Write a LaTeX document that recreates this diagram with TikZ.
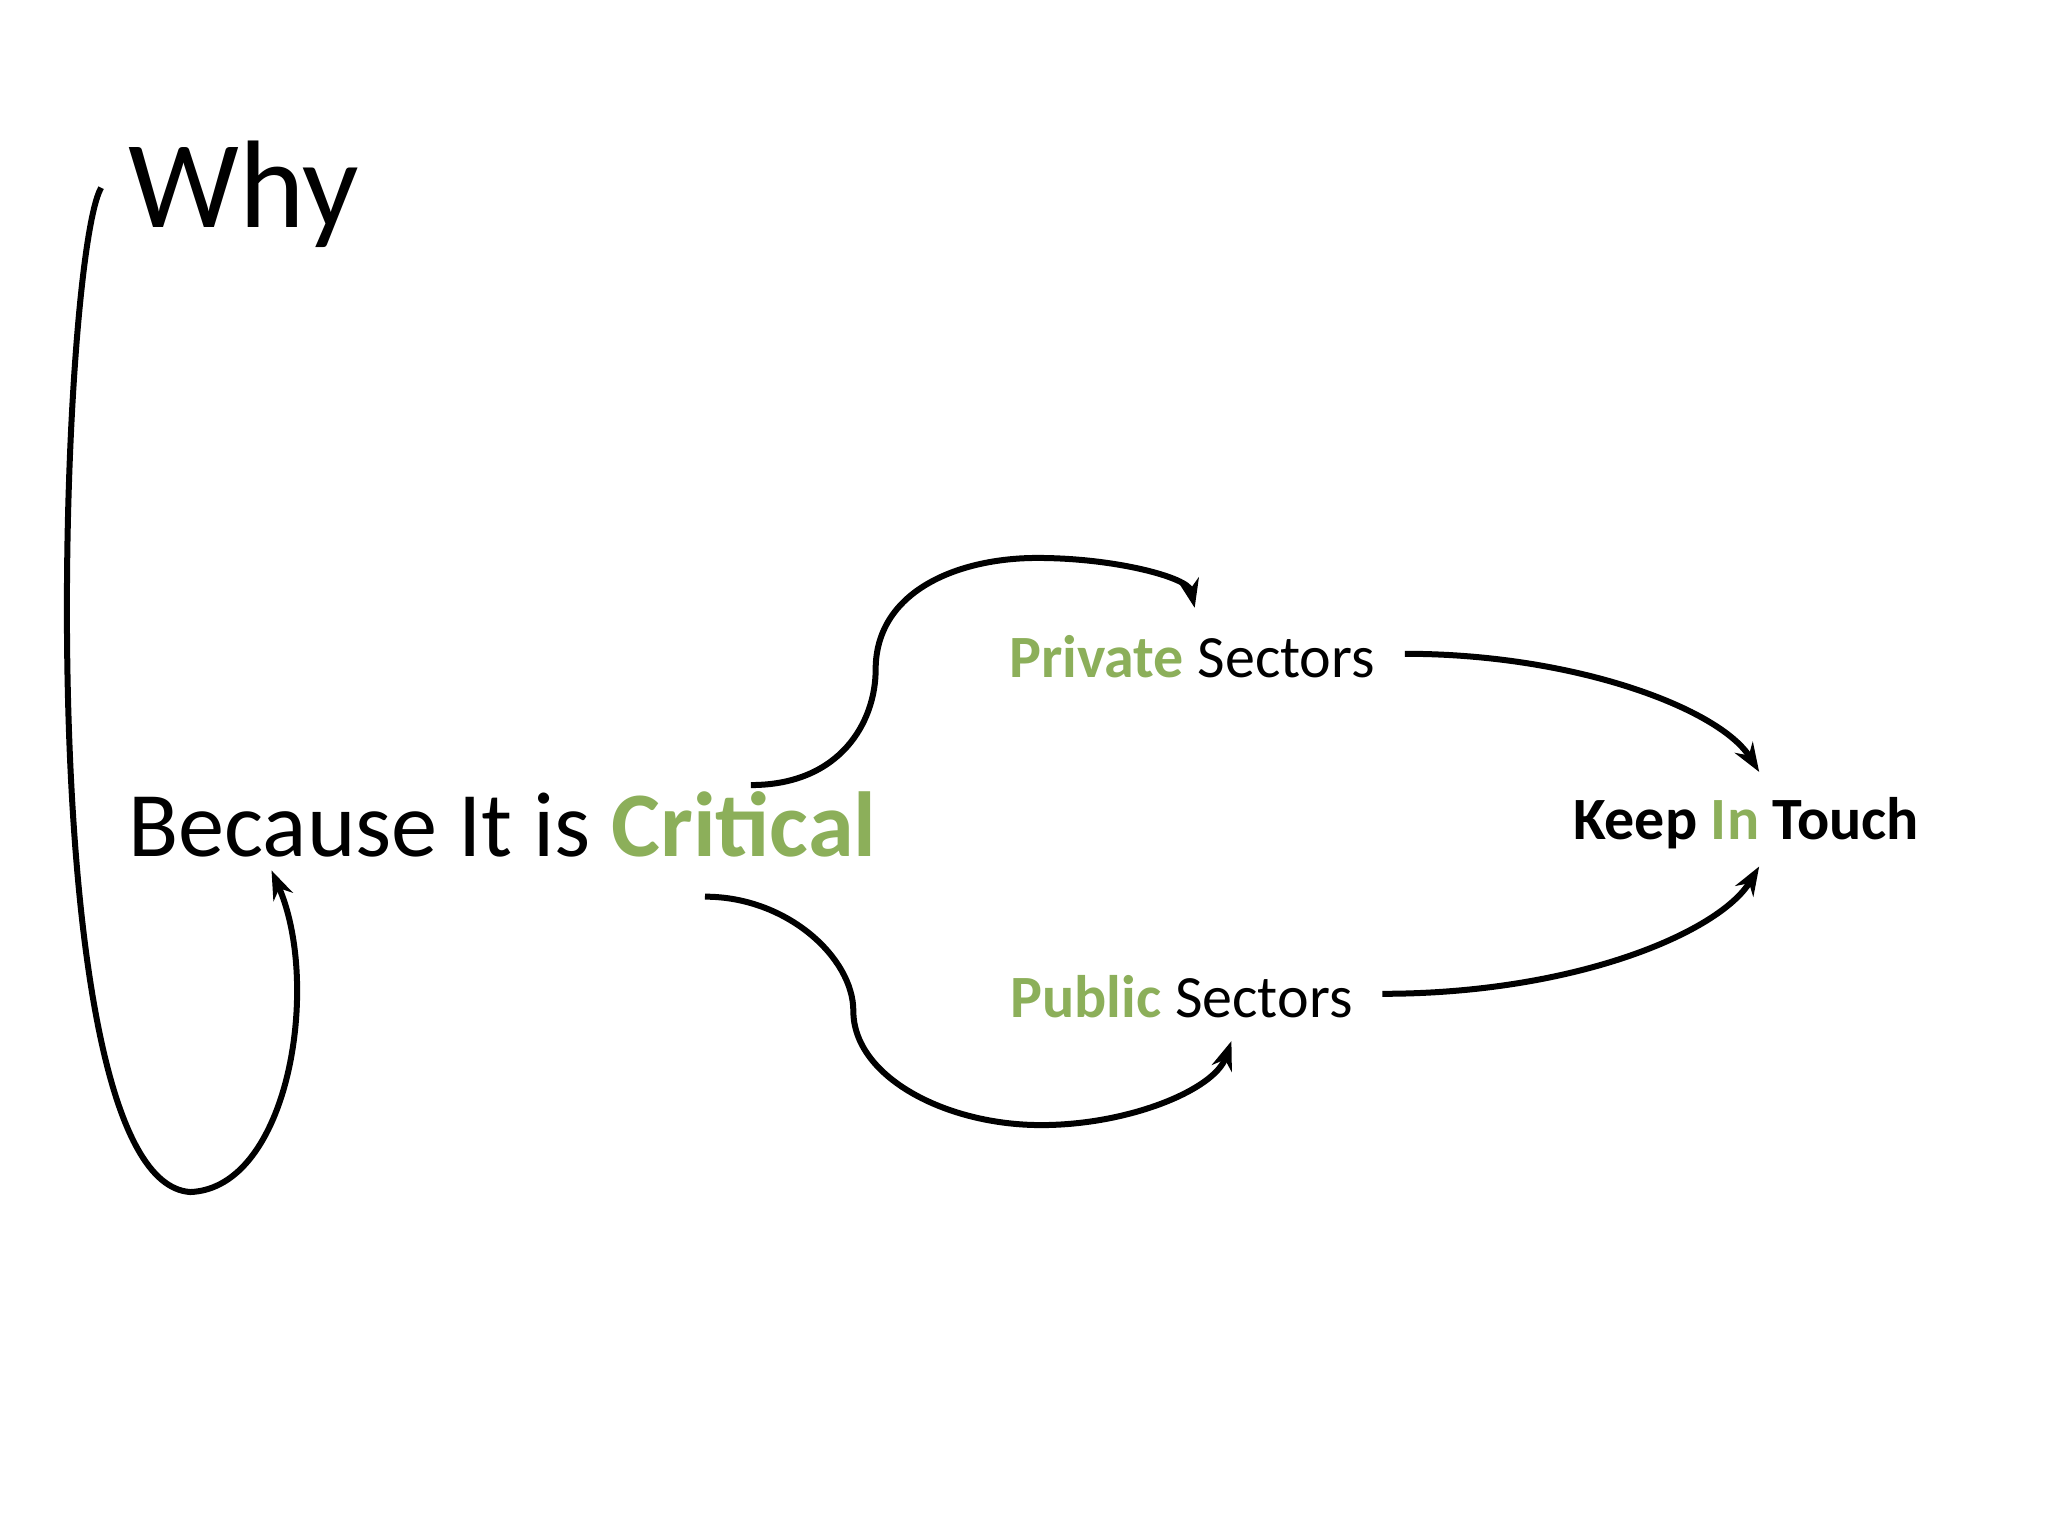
\documentclass[tikz,border=0pt]{standalone}
\usepackage{fontspec}
\setmainfont{Carlito}
\usetikzlibrary{arrows.meta}
\definecolor{leaf}{RGB}{140,175,90}
\begin{document}
\begin{tikzpicture}[
    x=0.01cm, y=-0.01cm,
    curve/.style={line width=1.3pt, -{Stealth[length=2.2mm,width=1.6mm]}},
    bigtext/.style={font=\fontsize{20}{24}\selectfont, inner sep=0pt},
    midtext/.style={font=\fontsize{13}{16}\selectfont, inner sep=0pt}
    ]
    \useasboundingbox (0,0) rectangle (1560,1170);
    %Nodes
    \node[bigtext, font=\fontsize{27}{32}\selectfont, anchor=west] (why) at (97,148) {Why};
    \node[bigtext, anchor=west] (crit) at (97,628) {Because It is \textbf{\textcolor{leaf}{Critical}}};
    \node[midtext] (priv) at (908,500) {\textbf{\textcolor{leaf}{Private}} Sectors};
    \node[midtext] (pub) at (900,759) {\textbf{\textcolor{leaf}{Public}} Sectors};
    \node[midtext] (keep) at (1330,627) {\textbf{Keep \textcolor{leaf}{In} Touch}};

    %Lines
    \draw[curve] (why.west) ++(-20,-5) .. controls (45,200) and (20,900) .. (145,908)
        .. controls (220,905) and (245,750) .. ([xshift=-50]crit.south |- 0,663);
    \draw[curve] (572,598) .. controls (640,598) and (667,550) .. (667,510)
        .. controls (667,450) and (730,425) .. (790,425)
        .. controls (850,425) and (905,440) .. (910,463);
    \draw[curve] (537,683) .. controls (600,683) and (650,730) .. (650,770)
        .. controls (650,820) and (720,857) .. (793,857)
        .. controls (860,857) and (925,830) .. (938,793);
    \draw[curve] (priv.east) ++(22,-2) .. controls (1200,498) and (1310,540) .. (1340,588);
    \draw[curve] (pub.east) ++(22,-2) .. controls (1200,757) and (1310,710) .. (1340,660);
\end{tikzpicture}
\end{document}
